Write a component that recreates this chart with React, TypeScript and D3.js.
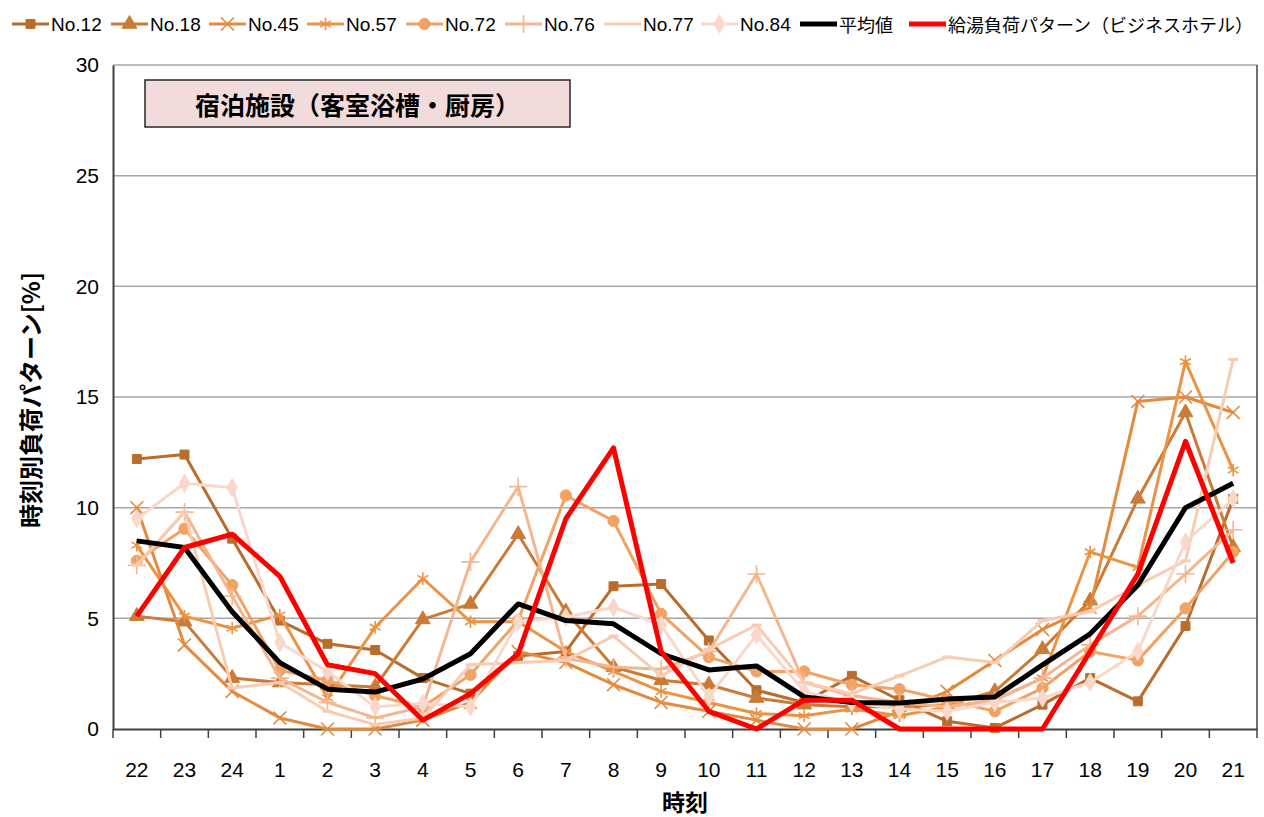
import React, { useEffect, useRef } from 'react';
import * as d3 from 'd3';

// 時刻 (x categories)
const hours = ['22', '23', '24', '1', '2', '3', '4', '5', '6', '7', '8', '9', '10', '11', '12', '13', '14', '15', '16', '17', '18', '19', '20', '21'];
const yTicks = [0, 5, 10, 15, 20, 25, 30];

// 各施設の時刻別負荷パターン [%]
const no12 = [12.2, 12.4, 8.6, 4.9, 3.85, 3.57, 2.3, 1.6, 3.3, 3.5, 6.45, 6.55, 4.0, 1.75, 1.2, 2.4, 1.3, 0.35, 0.05, 1.1, 2.3, 1.25, 4.65, 10.4];
const no18 = [5.1, 4.85, 2.3, 2.1, 2.0, 1.9, 4.95, 5.65, 8.8, 5.3, 2.8, 2.2, 2.0, 1.4, 1.1, 1.0, 1.0, 1.1, 1.7, 3.6, 5.8, 10.4, 14.3, 8.2];
const no45 = [10.0, 3.8, 1.7, 0.5, 0.0, 0.0, 0.4, 1.2, 3.5, 3.0, 2.0, 1.2, 0.8, 0.4, 0.0, 0.0, 0.8, 1.7, 3.1, 4.5, 5.5, 14.8, 15.0, 14.3];
const no57 = [8.3, 5.1, 4.55, 5.15, 1.4, 4.6, 6.8, 4.85, 4.85, 3.5, 2.6, 1.7, 1.2, 0.7, 0.6, 0.9, 0.6, 1.0, 1.3, 2.3, 8.0, 7.3, 16.6, 11.7];
const no72 = [7.6, 9.05, 6.5, 2.65, 2.2, 1.5, 1.0, 2.45, 4.9, 10.55, 9.4, 5.2, 3.25, 2.6, 2.6, 2.0, 1.8, 1.3, 0.8, 1.85, 3.5, 3.1, 5.45, 8.0];
const no76 = [7.4, 9.8, 6.0, 2.3, 1.2, 0.5, 1.0, 7.55, 10.95, 3.2, 2.8, 2.7, 3.5, 7.0, 2.1, 1.5, 1.2, 1.0, 1.3, 2.3, 3.8, 5.1, 7.0, 9.0];
const no77 = [7.4, 9.8, 1.85, 2.1, 0.8, 0.2, 0.5, 2.9, 3.0, 3.1, 4.2, 2.4, 3.6, 4.7, 2.1, 1.6, 2.4, 3.25, 3.0, 4.9, 5.3, 6.5, 7.6, 16.7];
const no84 = [9.5, 11.1, 10.9, 3.9, 2.6, 1.0, 1.15, 1.0, 4.85, 5.05, 5.5, 4.7, 1.45, 4.25, 1.7, 1.2, 0.9, 0.8, 1.2, 1.4, 2.1, 3.5, 8.45, 10.4];
const average = [8.5, 8.2, 5.3, 3.0, 1.8, 1.67, 2.26, 3.4, 5.65, 4.9, 4.75, 3.4, 2.67, 2.85, 1.45, 1.2, 1.17, 1.35, 1.45, 2.9, 4.3, 6.5, 10.0, 11.1];
const hotelPattern = [5.1, 8.2, 8.8, 6.9, 2.9, 2.5, 0.4, 1.6, 3.4, 9.5, 12.7, 3.5, 0.8, 0.0, 1.3, 1.3, 0.0, 0.0, 0.0, 0.0, 3.5, 7.0, 13.0, 7.5];

const series = [
  { name: 'No.12', values: no12, color: '#BA6C2C', symbol: d3.symbolSquare, size: 80, stroke: false },
  { name: 'No.18', values: no18, color: '#C97B37', symbol: d3.symbolTriangle, size: 95, stroke: false },
  { name: 'No.45', values: no45, color: '#E38A3F', symbol: d3.symbolX, size: 110, stroke: true },
  { name: 'No.57', values: no57, color: '#EC9343', symbol: d3.symbolAsterisk, size: 110, stroke: true },
  { name: 'No.72', values: no72, color: '#F1A265', symbol: d3.symbolCircle, size: 100, stroke: false },
  { name: 'No.76', values: no76, color: '#F5B68F', symbol: d3.symbolPlus, size: 110, stroke: true },
  { name: 'No.77', values: no77, color: '#F8CCB3', symbol: null, size: 0, stroke: false },
  { name: 'No.84', values: no84, color: '#F9D8CA', symbol: d3.symbolDiamond, size: 95, stroke: false },
];

const App = () => {
  const svgRef = useRef(null);

  useEffect(() => {
    document.body.style.margin = '0';
    const svg = d3.select(svgRef.current);
    svg.selectAll('*').remove();

    const margin = { top: 65, right: 7, bottom: 88, left: 113 };
    const width = 1264 - margin.left - margin.right;
    const height = 817 - margin.top - margin.bottom;
    const latin = '"Liberation Sans", "Noto Sans CJK JP", sans-serif';
    const cjk = '"Noto Sans CJK JP", sans-serif';

    const x = d3.scaleBand().domain(hours).range([0, width]);
    const y = d3.scaleLinear().domain([0, 30]).range([height, 0]);

    const g = svg.append('g').attr('transform', `translate(${margin.left},${margin.top})`);

    // gridlines
    g.selectAll('.grid')
      .data(yTicks.filter(d => d > 0))
      .join('line')
      .attr('x1', 0)
      .attr('x2', width)
      .attr('y1', d => y(d))
      .attr('y2', d => y(d))
      .attr('stroke', '#A6A6A6')
      .attr('stroke-width', 1.5);

    // right border
    g.append('line')
      .attr('x1', width).attr('x2', width)
      .attr('y1', 0).attr('y2', height)
      .attr('stroke', '#404040').attr('stroke-width', 1.5);

    // y axis
    const yAxis = d3.axisLeft(y).tickValues(yTicks).tickSize(0).tickPadding(14);
    const ya = g.append('g').call(yAxis);
    ya.select('.domain').attr('stroke', '#404040').attr('stroke-width', 2);
    ya.selectAll('text').style('font-size', '21px').style('font-family', latin).attr('fill', '#000');

    // x axis
    const xa = g.append('g').attr('transform', `translate(0,${height})`)
      .call(d3.axisBottom(x).tickSize(0).tickPadding(33).tickSizeOuter(0));
    xa.select('.domain').attr('stroke', '#404040').attr('stroke-width', 2);
    xa.selectAll('text').style('font-size', '21px').style('font-family', latin).attr('fill', '#000');
    xa.selectAll('.sep')
      .data(d3.range(hours.length + 1))
      .join('line')
      .attr('x1', i => i * x.step())
      .attr('x2', i => i * x.step())
      .attr('y1', 0)
      .attr('y2', 9)
      .attr('stroke', '#404040')
      .attr('stroke-width', 1.5);

    const line = d3.line<number>()
      .x((_, i) => x(hours[i]) + x.bandwidth() / 2)
      .y(d => y(d));

    // facility lines
    series.forEach(s => {
      g.append('path')
        .datum(s.values)
        .attr('d', line)
        .attr('fill', 'none')
        .attr('stroke', s.color)
        .attr('stroke-width', 3)
        .attr('stroke-linejoin', 'round');
      if (s.symbol) {
        g.selectAll(null)
          .data(s.values)
          .join('path')
          .attr('transform', (d, i) => `translate(${x(hours[i]) + x.bandwidth() / 2},${y(d)})`)
          .attr('d', d3.symbol(s.symbol, s.size))
          .attr('fill', s.stroke ? 'none' : s.color)
          .attr('stroke', s.color)
          .attr('stroke-width', s.stroke ? 1.6 : 1);
      } else {
        g.selectAll(null)
          .data(s.values)
          .join('line')
          .attr('x1', (d, i) => x(hours[i]) + x.bandwidth() / 2 - 5)
          .attr('x2', (d, i) => x(hours[i]) + x.bandwidth() / 2 + 5)
          .attr('y1', d => y(d))
          .attr('y2', d => y(d))
          .attr('stroke', s.color)
          .attr('stroke-width', 3);
      }
    });

    g.append('path').datum(average).attr('d', line)
      .attr('fill', 'none').attr('stroke', '#000').attr('stroke-width', 5).attr('stroke-linejoin', 'round');
    g.append('path').datum(hotelPattern).attr('d', line)
      .attr('fill', 'none').attr('stroke', '#FF0000').attr('stroke-width', 5).attr('stroke-linejoin', 'round');

    // title box
    g.append('rect')
      .attr('x', 32).attr('y', 15).attr('width', 425).attr('height', 47)
      .attr('fill', '#F2DCDB').attr('stroke', '#262626').attr('stroke-width', 1.5);
    g.append('text')
      .attr('x', 32 + 425 / 2).attr('y', 39)
      .attr('text-anchor', 'middle').attr('dominant-baseline', 'central')
      .style('font-family', cjk).style('font-size', '25px').style('font-weight', 'bold')
      .text('宿泊施設（客室浴槽・厨房）');

    // axis titles
    svg.append('text')
      .attr('x', margin.left + width / 2).attr('y', 801)
      .attr('text-anchor', 'middle').attr('dominant-baseline', 'central')
      .style('font-family', cjk).style('font-size', '23px').style('font-weight', 'bold')
      .text('時刻');
    svg.append('text')
      .attr('transform', 'translate(29,400) rotate(-90)')
      .attr('text-anchor', 'middle').attr('dominant-baseline', 'central')
      .style('font-family', cjk).style('font-size', '24px').style('font-weight', 'bold')
      .text('時刻別負荷パターン[%]');

    // legend
    const legendItems = [
      ...series,
      { name: '平均値', color: '#000', symbol: null, size: 0, stroke: false, thick: true },
      { name: '給湯負荷パターン（ビジネスホテル）', color: '#FF0000', symbol: null, size: 0, stroke: false, thick: true },
    ];
    const legendX = [12, 111, 209, 307, 406, 505, 604, 701, 800, 909];
    const legend = svg.append('g').attr('transform', 'translate(0,24)');
    legendItems.forEach((item, k) => {
      const lx = legendX[k];
      const it = legend.append('g').attr('transform', `translate(${lx},0)`);
      it.append('line')
        .attr('x1', 0).attr('x2', 37).attr('y1', 0).attr('y2', 0)
        .attr('stroke', item.color).attr('stroke-width', (item as any).thick ? 5 : 3);
      if (item.symbol) {
        it.append('path')
          .attr('transform', 'translate(18.5,0)')
          .attr('d', d3.symbol(item.symbol, item.size))
          .attr('fill', item.stroke ? 'none' : item.color)
          .attr('stroke', item.color)
          .attr('stroke-width', item.stroke ? 1.6 : 1);
      }
      const isCjk = /[^\x00-\x7F]/.test(item.name);
      it.append('text')
        .attr('x', 39).attr('y', 0)
        .attr('dominant-baseline', 'central')
        .style('font-family', isCjk ? cjk : latin)
        .style('font-size', isCjk ? '18px' : '19px')
        .text(item.name);
    });
  }, []);

  return <svg ref={svgRef} width={1264} height={817} style={{ display: 'block', background: '#fff' }} />;
};

export default App;
